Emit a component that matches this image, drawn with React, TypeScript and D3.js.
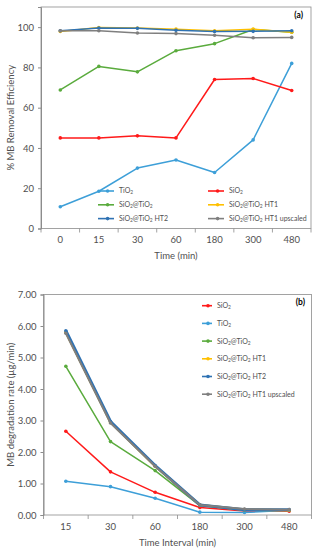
import * as d3 from 'd3';
import { useEffect, useRef } from 'react';

// panel (a): removal efficiency
const timesA = ['0', '15', '30', '60', '180', '300', '480'];
const tio2A = [10.8, 18.5, 30, 34, 27.8, 44, 82];
const sio2A = [45, 45, 46, 45, 74, 74.5, 68.5];
const coreShellA = [68.8, 80.5, 77.8, 88.3, 91.8, 98.8, 97.5];
const ht1A = [97.8, 99.8, 99.6, 99, 98.2, 99, 97.5];
const ht2A = [98.2, 99.6, 99.4, 98.4, 97.8, 97.9, 98.2];
const upscaledA = [98.2, 98.2, 97.1, 96.8, 96, 94.7, 94.9];
const ticksA = [0, 20, 40, 60, 80, 100];

// panel (b): degradation rate
const timesB = ['15', '30', '60', '180', '300', '480'];
const sio2B = [2.66, 1.37, 0.72, 0.24, 0.13, 0.12];
const tio2B = [1.07, 0.9, 0.53, 0.09, 0.08, 0.15];
const coreShellB = [4.72, 2.33, 1.41, 0.3, 0.16, 0.15];
const ht1B = [5.8, 2.95, 1.55, 0.32, 0.17, 0.15];
const ht2B = [5.85, 2.97, 1.57, 0.32, 0.17, 0.17];
const upscaledB = [5.77, 2.92, 1.55, 0.32, 0.19, 0.17];
const ticksB = [0, 1, 2, 3, 4, 5, 6, 7];

const C = {
  tio2: '#3d9fd8',
  sio2: '#ff1a1a',
  cs: '#5aab3d',
  ht1: '#ffc000',
  ht2: '#2f72b3',
  up: '#7f7f7f',
};

const FONT = 'Lato, "Liberation Sans", sans-serif';
const TXT = '#505050';

// label with subscripts: parts of [text, isSub]
const labelParts = {
  tio2: [['TiO', 0], ['2', 1]],
  sio2: [['SiO', 0], ['2', 1]],
  cs: [['SiO', 0], ['2', 1], ['@TiO', 0], ['2', 1]],
  ht1: [['SiO', 0], ['2', 1], ['@TiO', 0], ['2', 1], [' HT1', 0]],
  ht2: [['SiO', 0], ['2', 1], ['@TiO', 0], ['2', 1], [' HT2', 0]],
  up: [['SiO', 0], ['2', 1], ['@TiO', 0], ['2', 1], [' HT1 upscaled', 0]],
};

function writeLabel(sel, key) {
  labelParts[key].forEach(([t, sub]) => {
    sel
      .append('tspan')
      .attr('baseline-shift', sub ? '-25%' : null)
      .attr('font-size', sub ? '0.7em' : null)
      .text(t);
  });
}

function drawPanel(svg, cfg) {
  const { left, right, top, bottom, cats, yMax, ticks, fmt, series, legend, tag, yTitle, xTitle, xTitleY } = cfg;
  const g = svg.append('g');

  const x = d3.scaleBand().domain(cats).range([left, right]);
  const y = d3.scaleLinear().domain([0, yMax]).range([bottom, top]);

  // plot box
  g.append('rect')
    .attr('x', left)
    .attr('y', top)
    .attr('width', right - left)
    .attr('height', bottom - top)
    .attr('fill', 'none')
    .attr('stroke', '#8c8c8c')
    .attr('stroke-width', 0.8);

  // y axis
  const yAxis = g
    .append('g')
    .attr('transform', `translate(${left},0)`)
    .call(d3.axisLeft(y).tickValues(ticks).tickFormat(fmt).tickSize(3).tickPadding(4));
  yAxis.select('.domain').attr('stroke', '#8c8c8c');
  yAxis.selectAll('.tick line').attr('stroke', '#8c8c8c');
  yAxis.selectAll('text').attr('font-family', FONT).attr('font-size', 9.5).attr('fill', TXT);

  // x axis: labels centred, tick marks between categories
  const xAxis = g
    .append('g')
    .attr('transform', `translate(0,${bottom})`)
    .call(d3.axisBottom(x).tickSize(0).tickPadding(8));
  xAxis.select('.domain').remove();
  xAxis.selectAll('text').attr('font-family', FONT).attr('font-size', 9.5).attr('fill', TXT);
  const edges = [left].concat(cats.slice(1).map((c) => x(c)), [right]);
  g.selectAll(null)
    .data(edges)
    .join('line')
    .attr('x1', (d) => d)
    .attr('x2', (d) => d)
    .attr('y1', bottom)
    .attr('y2', bottom + 4)
    .attr('stroke', '#8c8c8c')
    .attr('stroke-width', 0.8);

  const line = d3
    .line()
    .x((d, i) => x(cats[i]) + x.bandwidth() / 2)
    .y((d) => y(d));

  series.forEach((s) => {
    g.append('path')
      .datum(s.values)
      .attr('d', line)
      .attr('fill', 'none')
      .attr('stroke', C[s.key])
      .attr('stroke-width', s.width)
      .attr('stroke-linejoin', 'round');
    g.selectAll(null)
      .data(s.values)
      .join('circle')
      .attr('cx', (d, i) => x(cats[i]) + x.bandwidth() / 2)
      .attr('cy', (d) => y(d))
      .attr('r', 1.8)
      .attr('fill', C[s.key]);
  });

  // legend
  legend.items.forEach((key, i) => {
    const [lx, ly] = legend.pos(i);
    const lg = g.append('g').attr('transform', `translate(${lx},${ly})`);
    lg.append('line')
      .attr('x1', 0)
      .attr('x2', legend.len)
      .attr('y1', 0)
      .attr('y2', 0)
      .attr('stroke', C[key])
      .attr('stroke-width', 1.6);
    lg.append('circle').attr('cx', legend.len * 0.6).attr('cy', 0).attr('r', 1.8).attr('fill', C[key]);
    const t = lg
      .append('text')
      .attr('x', legend.len + 5)
      .attr('y', 2.4)
      .attr('font-family', FONT)
      .attr('font-size', 7)
      .attr('fill', TXT);
    writeLabel(t, key);
  });

  g.append('text')
    .attr('x', tag.x)
    .attr('y', tag.y)
    .attr('text-anchor', 'end')
    .attr('font-family', FONT)
    .attr('font-size', 8.5)
    .attr('font-weight', 'bold')
    .attr('fill', '#000')
    .text(tag.text);

  g.append('text')
    .attr('transform', `translate(14,${(top + bottom) / 2}) rotate(-90)`)
    .attr('text-anchor', 'middle')
    .attr('font-family', FONT)
    .attr('font-size', 9.5)
    .attr('fill', TXT)
    .text(yTitle);

  g.append('text')
    .attr('x', (left + right) / 2)
    .attr('y', xTitleY)
    .attr('text-anchor', 'middle')
    .attr('font-family', FONT)
    .attr('font-size', 9.5)
    .attr('fill', TXT)
    .text(xTitle);
}

const App = () => {
  const svgRef = useRef();

  useEffect(() => {
    const svg = d3.select(svgRef.current);
    svg.selectAll('*').remove();

    drawPanel(svg, {
      left: 41,
      right: 311,
      top: 7,
      bottom: 228.5,
      cats: timesA,
      yMax: 110,
      ticks: ticksA,
      fmt: d3.format('d'),
      series: [
        { key: 'tio2', values: tio2A, width: 1.5 },
        { key: 'sio2', values: sio2A, width: 1.5 },
        { key: 'cs', values: coreShellA, width: 1.5 },
        { key: 'ht1', values: ht1A, width: 1.5 },
        { key: 'ht2', values: ht2A, width: 1.5 },
        { key: 'up', values: upscaledA, width: 1.5 },
      ],
      legend: {
        items: ['tio2', 'sio2', 'cs', 'ht1', 'ht2', 'up'],
        len: 16,
        pos: (i) => [98, 191 + Math.floor(i / 2) * 13.8].map((v, j) => (j === 0 && i % 2 ? 208 : v)),
      },
      tag: { x: 303, y: 18, text: '(a)' },
      yTitle: '% MB Removal Efficiency',
      xTitle: 'Time (min)',
      xTitleY: 259,
    });

    drawPanel(svg, {
      left: 43.5,
      right: 311.5,
      top: 294.5,
      bottom: 515,
      cats: timesB,
      yMax: 7,
      ticks: ticksB,
      fmt: d3.format('.2f'),
      series: [
        { key: 'sio2', values: sio2B, width: 1.5 },
        { key: 'tio2', values: tio2B, width: 1.5 },
        { key: 'cs', values: coreShellB, width: 1.5 },
        { key: 'ht1', values: ht1B, width: 2.5 },
        { key: 'ht2', values: ht2B, width: 3 },
        { key: 'up', values: upscaledB, width: 2 },
      ],
      legend: {
        items: ['sio2', 'tio2', 'cs', 'ht1', 'ht2', 'up'],
        len: 10,
        pos: (i) => [202, 305.7 + i * 17.7],
      },
      tag: { x: 305, y: 305, text: '(b)' },
      yTitle: 'MB degradation rate (µg/min)',
      xTitle: 'Time Interval (min)',
      xTitleY: 546,
    });
  }, []);

  return (
    <svg
      ref={svgRef}
      width={315}
      height={550}
      style={{ position: 'absolute', left: 0, top: 0, background: '#fff' }}
    ></svg>
  );
};

export default App;
